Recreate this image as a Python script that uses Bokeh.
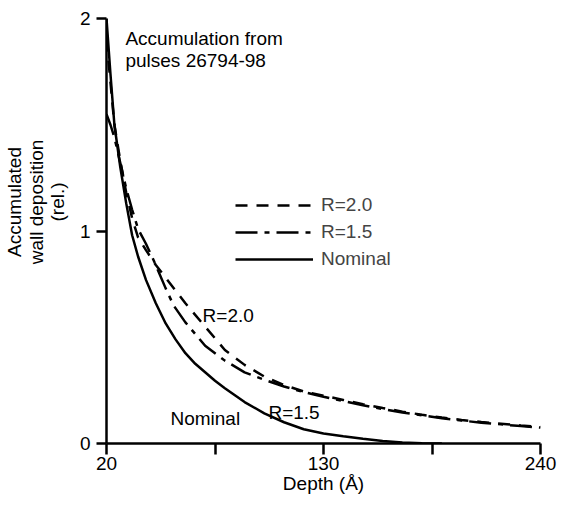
from bokeh.plotting import figure
from bokeh.models import Range1d, Legend, LegendItem, FixedTicker
from bokeh.core.properties import value
from bokeh.embed import file_html
from bokeh.resources import INLINE

# ---- data ----
depth_nominal = [20, 22, 24, 27, 30, 33, 36, 40, 45, 50, 55, 60, 65, 70, 75, 80, 90,
                 100, 110, 120, 130, 140, 150, 160, 170, 180, 190]
nominal = [2.0, 1.74, 1.5, 1.3, 1.13, 0.98, 0.88, 0.77, 0.66, 0.565, 0.49, 0.425,
           0.375, 0.335, 0.295, 0.26, 0.195, 0.142, 0.1, 0.067, 0.047, 0.034, 0.022,
           0.012, 0.005, 0.001, 0.0]

depth_r20 = [20, 22, 24, 27, 30, 33, 36, 40, 45, 50, 55, 60, 70, 80, 90, 100, 110,
             120, 130, 140, 150, 160, 170, 180, 190, 200, 210, 220, 230, 240]
r20 = [1.9, 1.7, 1.5, 1.33, 1.18, 1.06, 0.97, 0.91, 0.84, 0.78, 0.72, 0.66, 0.55,
       0.44, 0.37, 0.315, 0.275, 0.245, 0.225, 0.205, 0.185, 0.167, 0.15, 0.135,
       0.122, 0.111, 0.101, 0.093, 0.085, 0.078]

depth_r15 = [20, 22, 24, 27, 30, 33, 36, 40, 44, 50, 54, 60, 70, 80, 90, 100, 110,
             120, 130, 140, 150, 160, 170, 180, 190, 200, 210, 220, 230, 240]
r15 = [1.55, 1.5, 1.44, 1.32, 1.2, 1.1, 1.01, 0.94, 0.86, 0.73, 0.65, 0.57, 0.46,
       0.39, 0.335, 0.3, 0.268, 0.242, 0.22, 0.2, 0.18, 0.162, 0.146, 0.132, 0.119,
       0.108, 0.098, 0.09, 0.082, 0.075]

x_ticks = [20, 75, 130, 185, 240]
x_tick_labels = {20: "20", 75: "", 130: "130", 185: "", 240: "240"}
y_ticks = [0, 1, 2]
y_title_lines = ["Accumulated", "wall deposition", "(rel.)"]

FONT = "Liberation Sans"
FS = "19px"

p = figure(width=565, height=507, output_backend="svg", toolbar_location=None,
           x_range=Range1d(20, 240), y_range=Range1d(0, 2),
           min_border_left=106, min_border_right=25, min_border_top=18,
           min_border_bottom=64)
p.outline_line_color = None
p.xgrid.visible = False
p.ygrid.visible = False
p.background_fill_color = "white"

for ax in (p.xaxis[0], p.yaxis[0]):
    ax.axis_line_width = 2.5
    ax.major_tick_line_width = 2.5
    ax.major_tick_in = 0
    ax.minor_tick_line_color = None
    ax.major_label_text_font = FONT
    ax.major_label_text_font_size = FS
    ax.major_label_text_color = "black"
    ax.axis_line_color = "black"
    ax.major_tick_line_color = "black"
    ax.axis_label_text_font = FONT
    ax.axis_label_text_font_size = FS
    ax.axis_label_text_font_style = "normal"
    ax.axis_label_text_color = "black"

p.xaxis.ticker = FixedTicker(ticks=x_ticks)
p.xaxis.major_label_overrides = x_tick_labels
p.xaxis.major_tick_out = 11
p.xaxis.major_label_standoff = 2
p.xaxis.axis_label = "Depth (Å)"
p.xaxis.axis_label_standoff = 0

p.yaxis.ticker = FixedTicker(ticks=y_ticks)
p.yaxis.major_tick_out = 10
p.yaxis.major_label_standoff = 6
# leading non-breaking spaces shift the centred title block up the axis
pad = "\u00a0" * 11
p.yaxis.axis_label = "\n".join(pad + s for s in y_title_lines)
p.yaxis.axis_label_standoff = 9
p.yaxis.axis_label_text_line_height = 1.02

r_r20 = p.line(depth_r20, r20, line_color="black", line_width=2.5, line_dash="12 9")
r_r15 = p.line(depth_r15, r15, line_color="black", line_width=2.5, line_dash="22 7 5 7")
r_nom = p.line(depth_nominal, nominal, line_color="black", line_width=2.5)

legend = Legend(items=[LegendItem(label="R=2.0", renderers=[r_r20]),
                       LegendItem(label="R=1.5", renderers=[r_r15]),
                       LegendItem(label="Nominal", renderers=[r_nom])],
                location=(129, 173), orientation="vertical",
                glyph_width=78, glyph_height=22, label_height=22, spacing=5,
                label_standoff=8, padding=0, margin=0,
                border_line_color=None, background_fill_alpha=0,
                label_text_font=FONT, label_text_font_size=FS)
p.add_layout(legend, "center")

# curve annotations (data coordinates)
note_text = ["Accumulation from", "pulses 26794-98", "R=2.0", "Nominal", "R=1.5"]
note_x = [29.6, 29.6, 68.7, 52.4, 102.1]
note_y = [1.906, 1.802, 0.602, 0.118, 0.146]
p.text(note_x, note_y, text=note_text, text_font=value(FONT), text_font_size=FS,
       text_align="left", text_baseline="alphabetic", text_color="black")

open("out.html", "w").write(file_html(p, INLINE))
